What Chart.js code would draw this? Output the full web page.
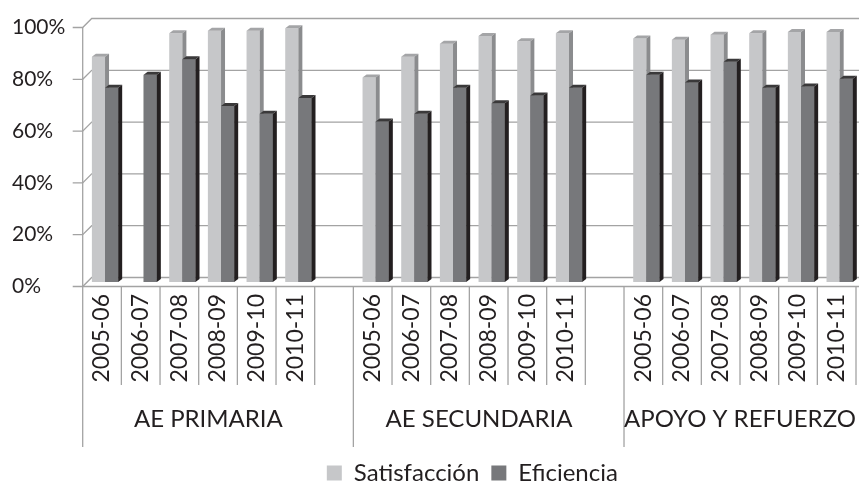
<!DOCTYPE html>
<html>
<head>
<meta charset="utf-8">
<script src="https://cdn.jsdelivr.net/npm/chart.js@4.4.1/dist/chart.umd.min.js"></script>
<style>
  html, body { margin: 0; padding: 0; background: #fff; }
  #wrap { width: 859px; height: 484px; position: relative; }
</style>
</head>
<body>
<div id="wrap"><canvas id="chart"></canvas></div>
<script>
// =====================
// DATA
// =====================
const categories = [
  "2005-06", "2006-07", "2007-08", "2008-09", "2009-10", "2010-11", "",
  "2005-06", "2006-07", "2007-08", "2008-09", "2009-10", "2010-11", "",
  "2005-06", "2006-07", "2007-08", "2008-09", "2009-10", "2010-11"
];
const groupNames = ["AE PRIMARIA", "AE SECUNDARIA", "APOYO Y REFUERZO"];
const groupFirst = [0, 7, 14];
const groupLast = [6, 13, 19];

const satisfaccion = [87, null, 96, 97, 97, 98, null, 79, 87, 92, 95, 93, 96, null, 94, 93.5, 95.5, 96, 96.5, 96.5];
const eficiencia = [75, 80, 86, 68, 65, 71, null, 62, 65, 75, 69, 72, 75, null, 80, 77, 85, 75, 75.5, 78.5];

const yTicks = [0, 20, 40, 60, 80, 100];

// =====================
// STYLE
// =====================
const FONT = "Lato";
const TEXT = "#231f20";
const GRID = "#a3a3a3";
const LIGHT = "#c6c7c9", LIGHT_TOP = "#a4a5a7", LIGHT_SIDE = "#8b8c8e";
const DARK = "#77787b", DARK_TOP = "#3a393a", DARK_SIDE = "#231f20";
// offsets of the front and back planes from the bar plane
const FRONT_DX = -3, FRONT_DY = 4.5;
const BACK_DX = 6, BACK_DY = -4.5;
const BAR_DX = 4, BAR_DY = 3;

// =====================
// 3D FRAME (walls, axes, dividers, group labels)
// =====================
const frame3d = {
  id: "frame3d",
  beforeDatasetsDraw(chart) {
    const { ctx, chartArea: a, scales: { y } } = chart;
    const frontLeft = a.left + FRONT_DX;
    ctx.save();
    ctx.strokeStyle = GRID;
    ctx.lineWidth = 1.3;

    // gridlines on the back wall + left wall diagonals + front ticks
    yTicks.forEach(v => {
      const py = y.getPixelForValue(v);
      ctx.beginPath();
      ctx.moveTo(frontLeft - 10, py + FRONT_DY);
      ctx.lineTo(frontLeft, py + FRONT_DY);
      ctx.lineTo(a.left + BACK_DX, py + BACK_DY);
      ctx.lineTo(chart.width + 10, py + BACK_DY);
      ctx.stroke();
    });

    // front vertical axis
    ctx.beginPath();
    ctx.moveTo(frontLeft, y.getPixelForValue(100) + FRONT_DY);
    ctx.lineTo(frontLeft, y.getPixelForValue(0) + FRONT_DY);
    ctx.stroke();
    ctx.restore();
  },
  afterDraw(chart) {
    const { ctx, chartArea: a, scales: { x, y } } = chart;
    const slot = x.getPixelForValue(1) - x.getPixelForValue(0);
    const y0 = y.getPixelForValue(0) + FRONT_DY;
    const edge = i => x.getPixelForValue(i) - slot / 2 + FRONT_DX;
    ctx.save();
    ctx.strokeStyle = GRID;
    ctx.lineWidth = 1.3;

    // front x axis line
    ctx.beginPath();
    ctx.moveTo(a.left + FRONT_DX, y0);
    ctx.lineTo(chart.width + 10, y0);
    ctx.stroke();

    // year dividers
    categories.forEach((c, i) => {
      if (!c) return;
      ctx.beginPath();
      ctx.moveTo(edge(i + 1), y0);
      ctx.lineTo(edge(i + 1), 385);
      ctx.stroke();
    });

    // group dividers + labels
    ctx.fillStyle = TEXT;
    ctx.font = "24px " + FONT;
    ctx.textAlign = "center";
    ctx.textBaseline = "middle";
    groupNames.forEach((g, k) => {
      const l = edge(groupFirst[k]);
      const gap = categories[groupLast[k]] ? 0 : slot / 2;
      const r = Math.min(edge(groupLast[k] + 1) - gap, a.right + FRONT_DX);
      ctx.beginPath();
      ctx.moveTo(l, y0);
      ctx.lineTo(l, 447);
      ctx.stroke();
      ctx.fillText(g, (l + r) / 2, 419);
    });
    ctx.restore();
  }
};

// =====================
// 3D BAR FACES
// =====================
function drawFaces(ctx, bar, topColor, sideColor) {
  const p = bar.getProps(["x", "y", "base", "width"], true);
  const l = p.x - p.width / 2, r = p.x + p.width / 2;
  ctx.fillStyle = topColor;
  ctx.beginPath();
  ctx.moveTo(l, p.y);
  ctx.lineTo(l + BAR_DX, p.y - BAR_DY);
  ctx.lineTo(r + BAR_DX, p.y - BAR_DY);
  ctx.lineTo(r, p.y);
  ctx.closePath();
  ctx.fill();
  ctx.fillStyle = sideColor;
  ctx.beginPath();
  ctx.moveTo(r, p.y);
  ctx.lineTo(r + BAR_DX, p.y - BAR_DY);
  ctx.lineTo(r + BAR_DX, p.base - BAR_DY);
  ctx.lineTo(r, p.base);
  ctx.closePath();
  ctx.fill();
}

const bars3d = {
  id: "bars3d",
  afterDatasetsDraw(chart) {
    const ctx = chart.ctx;
    const light = chart.getDatasetMeta(0).data;
    const dark = chart.getDatasetMeta(1).data;
    ctx.save();
    categories.forEach((c, i) => {
      if (satisfaccion[i] != null) drawFaces(ctx, light[i], LIGHT_TOP, LIGHT_SIDE);
      if (eficiencia[i] != null) {
        dark[i].draw(ctx);
        drawFaces(ctx, dark[i], DARK_TOP, DARK_SIDE);
      }
    });
    ctx.restore();
  }
};

// =====================
// CHART
// =====================
new Chart(document.getElementById("chart"), {
  type: "bar",
  data: {
    labels: categories,
    datasets: [
      { label: "Satisfacción", data: satisfaccion, backgroundColor: LIGHT, borderWidth: 0 },
      { label: "Eficiencia", data: eficiencia, backgroundColor: DARK, borderWidth: 0 }
    ]
  },
  options: {
    responsive: true,
    maintainAspectRatio: false,
    animation: false,
    categoryPercentage: 0.68,
    barPercentage: 1.0,
    layout: { padding: { left: 12, right: -2, top: 23, bottom: -11 } },
    plugins: {
      tooltip: { enabled: false },
      legend: {
        position: "bottom",
        fullSize: false,
        labels: {
          color: TEXT,
          font: { family: FONT, size: 24 },
          boxWidth: 15,
          boxHeight: 15,
          padding: 12
        }
      }
    },
    scales: {
      x: {
        grid: { display: false, drawTicks: false },
        border: { display: false },
        ticks: {
          color: TEXT,
          font: { family: FONT, size: 23 },
          autoSkip: false,
          minRotation: 90,
          maxRotation: 90,
          padding: 12,
          labelOffset: FRONT_DX
        },
        afterFit(s) {
          s.height = 167;
          s.paddingLeft = 0;
          s.paddingRight = 0;
        }
      },
      y: {
        min: 0,
        max: 100,
        grid: { display: false, drawTicks: false },
        border: { display: false },
        ticks: {
          stepSize: 20,
          color: TEXT,
          font: { family: FONT, size: 21 },
          crossAlign: "far",
          labelOffset: FRONT_DY,
          callback: v => v + "%"
        },
        afterFit(s) { s.width = 73.7; }
      }
    }
  },
  plugins: [frame3d, bars3d]
});
</script>
</body>
</html>
